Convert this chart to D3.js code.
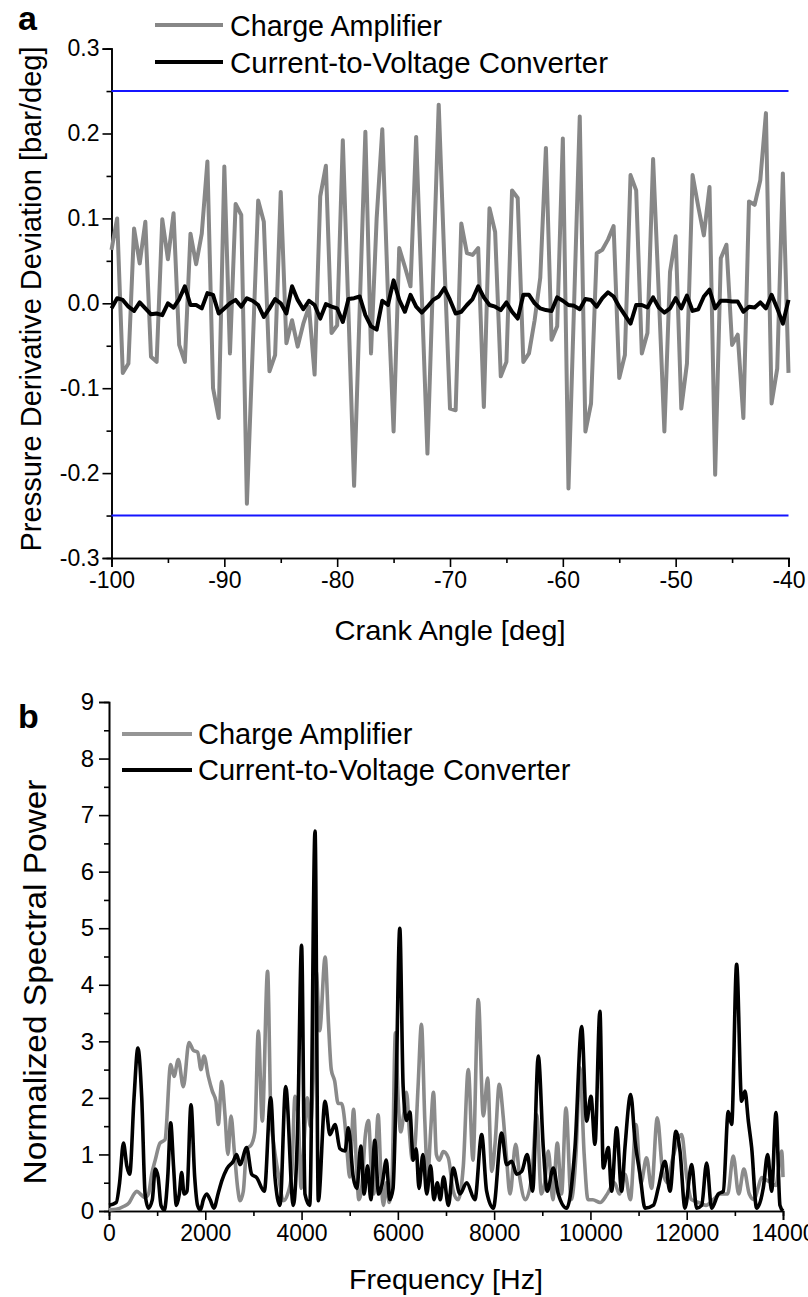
<!DOCTYPE html>
<html><head><meta charset="utf-8">
<script src="https://cdn.jsdelivr.net/npm/d3@7"></script>
<style>body{margin:0;background:#fff}svg{display:block}</style>
</head><body>
<svg id="c" width="808" height="1297"></svg>
<script>
// ---------- Panel a data ----------
const angleStart = -100, angleStep = 0.5;
const chargeAmpDeviation = [
 0.063,0.100,-0.082,-0.071,0.088,0.047,0.096,-0.063,-0.069,0.099,
 0.052,0.106,-0.049,-0.069,0.082,0.046,0.082,0.167,-0.100,-0.135,
 0.161,-0.059,0.117,0.104,-0.236,-0.058,0.121,0.096,-0.080,-0.061,
 0.131,-0.047,-0.020,-0.051,-0.024,-0.004,-0.084,0.126,0.162,-0.035,
 -0.026,0.192,-0.010,-0.215,-0.005,0.202,-0.059,0.100,0.205,0.010,
 -0.151,0.065,0.043,0.020,0.196,0.010,-0.177,0.030,0.234,0.050,
 -0.124,-0.126,0.094,0.059,0.057,0.065,-0.122,0.112,0.084,-0.086,
 -0.069,0.133,0.124,-0.069,-0.059,-0.020,0.030,0.183,-0.043,-0.027,
 0.194,-0.218,0.000,0.220,-0.151,-0.118,0.059,0.063,0.075,0.091,
 -0.088,-0.061,0.151,0.133,-0.059,-0.035,0.170,0.012,-0.151,0.037,
 0.079,-0.124,-0.071,0.151,0.114,0.080,0.137,-0.202,0.053,0.069,
 -0.049,-0.037,-0.135,0.120,0.116,0.145,0.224,-0.118,-0.077,0.153,
 -0.082
];
const ivcDeviation = [
 -0.006,0.006,0.004,-0.004,-0.009,0.001,-0.006,-0.013,-0.012,-0.014,
 0.000,-0.005,0.005,0.020,-0.002,-0.002,-0.006,0.012,0.010,-0.012,
 -0.006,0.000,0.004,-0.004,0.006,0.003,-0.002,-0.016,-0.006,0.005,
 0.000,-0.012,0.020,0.004,-0.007,0.003,-0.002,-0.018,-0.001,-0.004,
 -0.006,-0.022,0.005,0.006,0.008,-0.014,-0.027,-0.031,0.003,-0.002,
 0.027,0.004,-0.010,0.010,-0.004,-0.011,-0.004,0.004,0.008,0.018,
 0.004,-0.012,-0.010,-0.002,0.005,0.020,0.007,-0.002,-0.004,-0.008,
 0.001,-0.010,-0.018,0.010,0.010,0.000,-0.006,-0.008,-0.009,0.007,
 0.003,-0.002,-0.003,-0.007,0.005,0.004,-0.004,0.006,0.013,0.008,
 -0.004,-0.014,-0.024,-0.002,-0.002,-0.005,0.007,-0.005,-0.011,-0.006,
 0.006,-0.006,0.009,-0.009,-0.007,0.008,0.016,-0.006,0.003,0.003,
 0.002,0.002,-0.010,-0.004,-0.005,0.001,-0.006,0.010,-0.006,-0.024,
 0.004
];
const limitLines = [0.25, -0.25];
const aXTicks = [-100,-90,-80,-70,-60,-50,-40];
const aXMinor = [-95,-85,-75,-65,-55,-45];
const aYTicks = [-0.3,-0.2,-0.1,0.0,0.1,0.2,0.3];
const aYMinor = [-0.25,-0.15,-0.05,0.05,0.15,0.25];

// ---------- Panel b data ----------
const chargeFreq = [0,150,300,420,520,575,650,748,820,886,960,1059,1163,1281,1350,1440,1544,1662,1752,1842,1911,1973,2063,2146,2222,2271,2340,2409,2470,2534,2603,2672,2721,2790,2859,2963,3030,3101,3184,3294,3365,3413,3517,3621,3711,3794,3864,3933,3990,4050,4120,4180,4240,4305,4375,4490,4560,4617,4687,4760,4830,4900,4950,5000,5080,5140,5190,5260,5320,5390,5450,5500,5590,5650,5700,5760,5820,5880,5950,6010,6060,6120,6180,6240,6300,6360,6420,6490,6560,6620,6680,6740,6800,6860,6944,7048,7150,7250,7360,7463,7560,7670,7775,7865,7950,8020,8107,8190,8260,8330,8447,8530,8650,8780,8883,8980,9050,9125,9220,9312,9400,9492,9600,9700,9782,9870,9950,10050,10200,10350,10500,10600,10717,10830,10946,11050,11166,11270,11389,11500,11600,11700,11895,12000,12100,12250,12400,12550,12700,12850,12967,13080,13187,13300,13400,13480,13556,13650,13750,13850,13972,14000];
const chargePower = [0.02,0.03,0.08,0.15,0.30,0.35,0.30,0.24,0.30,0.65,0.90,1.20,1.26,2.59,2.38,2.68,2.20,2.98,2.84,2.81,2.50,2.74,2.38,2.12,1.94,1.53,2.29,1.70,1.00,1.68,1.06,0.41,0.18,0.35,1.09,1.18,1.40,3.18,1.59,4.24,1.60,1.24,0.65,0.18,0.30,0.65,2.03,1.65,0.40,1.20,2.00,1.50,2.30,4.23,3.19,4.49,3.30,2.50,2.30,1.90,1.90,1.55,1.00,0.60,1.80,0.80,0.20,0.50,1.30,1.60,0.70,0.30,1.70,0.60,0.10,0.50,0.15,0.60,3.15,1.90,1.40,1.70,2.10,1.40,0.90,1.20,2.20,3.30,1.60,0.60,1.40,2.10,1.00,0.90,1.05,0.94,0.35,0.20,0.80,2.50,0.90,3.74,1.68,2.35,0.70,1.20,2.24,1.65,0.90,0.30,1.18,0.60,0.20,0.60,1.70,0.30,0.50,1.06,0.20,1.20,0.30,1.82,0.20,1.00,2.53,1.00,0.20,0.20,0.15,0.30,0.50,0.30,0.65,0.20,1.53,0.50,0.94,0.40,1.65,0.70,0.50,0.90,1.35,0.60,0.20,0.15,0.10,0.20,0.30,0.30,0.97,0.30,0.74,0.30,0.20,0.40,0.59,0.55,0.50,0.45,1.06,0.60];
const ivcFreq = [0,150,220,300,370,430,520,600,680,750,820,900,960,1020,1080,1150,1220,1281,1340,1400,1460,1509,1560,1620,1703,1780,1840,1900,1960,2030,2100,2180,2270,2350,2450,2582,2652,2721,2859,2963,3067,3226,3358,3448,3552,3670,3828,3920,4000,4071,4170,4280,4348,4487,4590,4694,4798,4902,4971,5075,5150,5230,5300,5370,5440,5520,5600,5680,5760,5830,5900,5960,6040,6110,6180,6250,6320,6380,6440,6520,6600,6680,6750,6820,6880,6950,7050,7150,7290,7429,7600,7741,7844,7983,8155,8260,8364,8468,8572,8688,8799,8917,9021,9104,9229,9333,9506,9679,9818,9921,10011,10094,10197,10267,10371,10440,10544,10648,10717,10836,10926,11030,11134,11307,11410,11548,11652,11776,11860,11964,12103,12206,12310,12414,12518,12656,12760,12863,12933,13037,13141,13210,13280,13349,13452,13591,13681,13764,13854,13937,14000];
const ivcPower = [0.10,0.15,0.50,1.20,0.80,0.65,2.00,2.88,2.00,0.30,0.05,0.20,0.74,0.60,0.10,0.02,0.60,1.56,0.80,0.10,0.30,0.68,0.30,0.35,1.88,0.60,0.10,0.02,0.20,0.30,0.20,0.05,0.32,0.55,0.75,0.88,1.00,0.82,1.12,0.65,0.59,0.35,2.00,0.59,0.10,2.20,0.10,1.50,4.70,0.30,0.10,6.72,0.18,1.94,1.35,1.53,1.10,1.06,1.47,0.59,0.40,1.15,0.30,0.80,0.20,1.25,0.30,0.50,0.90,0.20,0.40,2.00,5.00,2.20,1.60,1.75,0.90,1.10,0.40,1.00,0.30,0.80,0.20,0.50,0.20,0.60,0.10,0.76,0.30,0.50,0.20,1.35,0.35,0.05,1.38,0.82,0.88,0.65,0.70,1.00,0.35,2.74,1.12,0.35,0.76,0.30,0.05,1.12,3.26,1.59,2.03,1.18,3.53,0.76,1.12,0.35,1.47,0.35,1.12,2.06,1.24,0.65,0.05,0.10,0.41,0.88,0.35,1.41,1.06,0.05,0.82,0.05,0.10,0.85,0.05,0.30,0.35,1.76,1.53,4.36,1.94,2.12,1.59,1.12,0.05,0.41,1.00,0.35,1.74,0.10,0.00];
const bXTicks = [0,2000,4000,6000,8000,10000,12000,14000];
const bXMinor = [1000,3000,5000,7000,9000,11000,13000];
const bYTicks = [0,1,2,3,4,5,6,7,8,9];
const bYMinor = [0.5,1.5,2.5,3.5,4.5,5.5,6.5,7.5,8.5];

const seriesNames = ["Charge Amplifier", "Current-to-Voltage Converter"];

// ---------- drawing ----------
const FONT = "'Liberation Sans',Arial,sans-serif";
const svg = d3.select("#c");

function styleAxis(g, size) {
  g.selectAll("path.domain").attr("stroke","#000").attr("stroke-width",1.6);
  g.selectAll(".tick line").attr("stroke","#000").attr("stroke-width",1.6);
  g.selectAll(".tick text").attr("font-family",FONT).attr("font-size",size).attr("fill","#000");
}
function fitText(sel, len) {
  sel.attr("textLength", len).attr("lengthAdjust","spacingAndGlyphs");
}
const minusFix = d => String(d).replace("\u2212","-");

// Panel a
const xa = d3.scaleLinear().domain([-100,-40]).range([111.5,788.5]);
const ya = d3.scaleLinear().domain([-0.3,0.3]).range([558,48.6]);
const ga = svg.append("g");
ga.append("g").attr("transform",`translate(0,${ya(-0.3)})`)
  .call(d3.axisBottom(xa).tickValues(aXMinor).tickSize(5).tickFormat(""))
  .call(g=>styleAxis(g,23));
ga.append("g").attr("transform",`translate(0,${ya(-0.3)})`)
  .call(d3.axisBottom(xa).tickValues(aXTicks).tickSize(9).tickPadding(5).tickFormat(d=>minusFix(d3.format("d")(d))))
  .call(g=>styleAxis(g,23));
ga.append("g").attr("transform",`translate(${xa(-100)},0)`)
  .call(d3.axisLeft(ya).tickValues(aYMinor).tickSize(5).tickFormat(""))
  .call(g=>styleAxis(g,23));
ga.append("g").attr("transform",`translate(${xa(-100)},0)`)
  .call(d3.axisLeft(ya).tickValues(aYTicks).tickSize(9).tickPadding(3).tickFormat(d=>minusFix(d3.format(".1f")(d))))
  .call(g=>styleAxis(g,23));

ga.selectAll("line.limit").data(limitLines).enter().append("line").attr("class","limit")
  .attr("x1",xa(-100)).attr("x2",xa(-40)).attr("y1",d=>ya(d)).attr("y2",d=>ya(d))
  .attr("stroke","#1515ff").attr("stroke-width",2);

const lineA = d3.line().x((d,i)=>xa(angleStart+i*angleStep)).y(d=>ya(d));
ga.append("path").datum(chargeAmpDeviation).attr("d",lineA).attr("fill","none")
  .attr("stroke","#878787").attr("stroke-width",4).attr("stroke-linejoin","round");
ga.append("path").datum(ivcDeviation).attr("d",lineA).attr("fill","none")
  .attr("stroke","#000").attr("stroke-width",4).attr("stroke-linejoin","round");

ga.append("text").attr("x",450).attr("y",640).attr("text-anchor","middle")
  .attr("font-family",FONT).attr("font-size",28).text("Crank Angle [deg]").call(fitText,231);
ga.append("text").attr("transform","translate(41,299) rotate(-90)").attr("text-anchor","middle")
  .attr("font-family",FONT).attr("font-size",29).text("Pressure Derivative Deviation [bar/deg]").call(fitText,505);
ga.append("text").attr("x",18).attr("y",30).attr("font-family",FONT).attr("font-weight","bold")
  .attr("font-size",34).text("a");
const legA = [{y:25,c:"#878787",len:212},{y:62,c:"#000",len:378}];
legA.forEach((d,i)=>{
  ga.append("line").attr("x1",155).attr("x2",223).attr("y1",d.y).attr("y2",d.y)
    .attr("stroke",d.c).attr("stroke-width",4);
  ga.append("text").attr("x",230).attr("y",d.y).attr("dy","0.36em")
    .attr("font-family",FONT).attr("font-size",30).text(seriesNames[i]).call(fitText,d.len);
});

// Panel b
const xb = d3.scaleLinear().domain([0,14000]).range([109,783]);
const yb = d3.scaleLinear().domain([0,9]).range([1211,702]);
const gb = svg.append("g");
gb.append("g").attr("transform",`translate(0,${yb(0)})`)
  .call(d3.axisBottom(xb).tickValues(bXMinor).tickSize(5).tickFormat(""))
  .call(g=>styleAxis(g,23));
gb.append("g").attr("transform",`translate(0,${yb(0)})`)
  .call(d3.axisBottom(xb).tickValues(bXTicks).tickSize(9).tickPadding(5).tickFormat(d3.format("d")))
  .call(g=>styleAxis(g,23));
gb.append("g").attr("transform",`translate(${xb(0)},0)`)
  .call(d3.axisLeft(yb).tickValues(bYMinor).tickSize(5).tickFormat(""))
  .call(g=>styleAxis(g,23));
gb.append("g").attr("transform",`translate(${xb(0)},0)`)
  .call(d3.axisLeft(yb).tickValues(bYTicks).tickSize(10).tickPadding(5).tickFormat(d3.format("d")))
  .call(g=>styleAxis(g,24));

const lineB = d3.line().curve(d3.curveMonotoneX).x(d=>xb(d[0])).y(d=>yb(d[1]));
gb.append("path").datum(d3.zip(chargeFreq,chargePower)).attr("d",lineB).attr("fill","none")
  .attr("stroke","#8a8a8a").attr("stroke-width",3.6).attr("stroke-linejoin","round");
gb.append("path").datum(d3.zip(ivcFreq,ivcPower)).attr("d",lineB).attr("fill","none")
  .attr("stroke","#000").attr("stroke-width",3.6).attr("stroke-linejoin","round");

gb.append("text").attr("x",446).attr("y",1289).attr("text-anchor","middle")
  .attr("font-family",FONT).attr("font-size",28).text("Frequency [Hz]").call(fitText,194);
gb.append("text").attr("transform","translate(46,982) rotate(-90)").attr("text-anchor","middle")
  .attr("font-family",FONT).attr("font-size",31).text("Normalized Spectral Power").call(fitText,405);
gb.append("text").attr("x",18).attr("y",728).attr("font-family",FONT).attr("font-weight","bold")
  .attr("font-size",34).text("b");
const legB = [{y:734,c:"#959595"},{y:770,c:"#000"}];
legB.forEach((d,i)=>{
  gb.append("line").attr("x1",122).attr("x2",192).attr("y1",d.y).attr("y2",d.y)
    .attr("stroke",d.c).attr("stroke-width",4);
  gb.append("text").attr("x",198).attr("y",d.y).attr("dy","0.36em")
    .attr("font-family",FONT).attr("font-size",29).text(seriesNames[i]);
});
</script>
</body></html>
